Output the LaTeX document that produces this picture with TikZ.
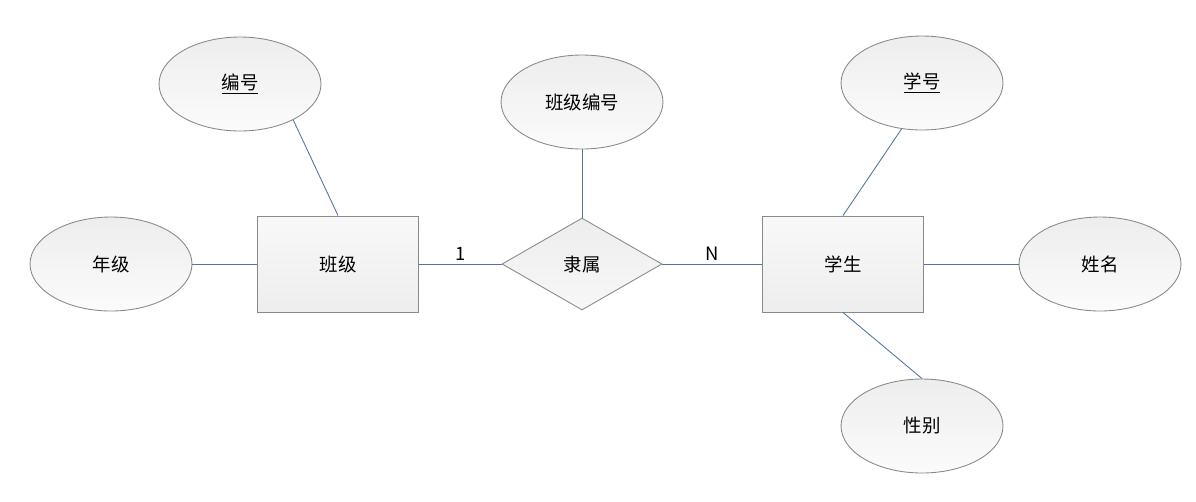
\documentclass[tikz,border=0pt]{standalone}
\usepackage{fontspec}
\setmainfont{Noto Sans CJK SC}
\usepackage{tikz}
\usetikzlibrary{shapes.geometric}

\definecolor{edgegray}{HTML}{8A8A8A}
\definecolor{linkblue}{HTML}{5573A3}

\begin{document}
\begin{tikzpicture}[
    x=0.02cm, y=-0.02cm,
    attr/.style={
        % The shape:
        ellipse,
        % The size:
        minimum width=3.24cm, minimum height=1.88cm, inner sep=0pt,
        % The border
        draw=edgegray, line width=0.5pt,
        % The filling
        top color=gray!14, bottom color=gray!3,
        % Font
        font=\fontsize{10.5}{12}\selectfont
    },
    entity/.style={
        rectangle,
        minimum width=3.22cm, minimum height=1.92cm, inner sep=0pt,
        draw=edgegray, line width=0.5pt,
        top color=gray!5, bottom color=gray!14,
        font=\fontsize{10.5}{12}\selectfont
    },
    relation/.style={
        diamond,
        minimum width=3.2cm, minimum height=1.84cm, inner sep=0pt,
        draw=edgegray, line width=0.5pt,
        top color=gray!14, bottom color=gray!6,
        font=\fontsize{10.5}{12}\selectfont
    },
    link/.style={draw=linkblue, line width=0.5pt},
    card/.style={font=\fontsize{10.5}{12}\selectfont, inner sep=1.5pt}
    ]

    \useasboundingbox (0,0) rectangle (1196,501);

    % entities and relation
    \node [entity]   (banji)    at (338,264) {班级};
    \node [entity]   (xuesheng) at (843,264) {学生};
    \node [relation] (lishu)    at (582,264) {隶属};

    % attributes
    \foreach \name/\x/\y/\txt in {bianhao/240/84/\underline{编号}, nianji/111/264/年级,
        banjibianhao/582/102/班级编号, xuehao/922/83/\underline{学号},
        xingming/1100/264/姓名, xingbie/922/426/性别}
    {
        \node [attr] (\name) at (\x,\y) {\txt};
    }

    % connectors
    \draw [link] (bianhao.-34) -- (banji.north);
    \draw [link] (nianji.east) -- (banji.west);
    \draw [link] (banjibianhao.south) -- (lishu.north);
    \draw [link] (banji.east) -- node [card, above] (one) {1} (lishu.west);
    \draw [link] (lishu.east) -- node [card, above] (many) {N} (xuesheng.west);
    \draw [link] (xuehao.-114) -- (xuesheng.north);
    \draw [link] (xuesheng.east) -- (xingming.west);
    \draw [link] (xuesheng.south) -- (xingbie.north);
\end{tikzpicture}
\end{document}
